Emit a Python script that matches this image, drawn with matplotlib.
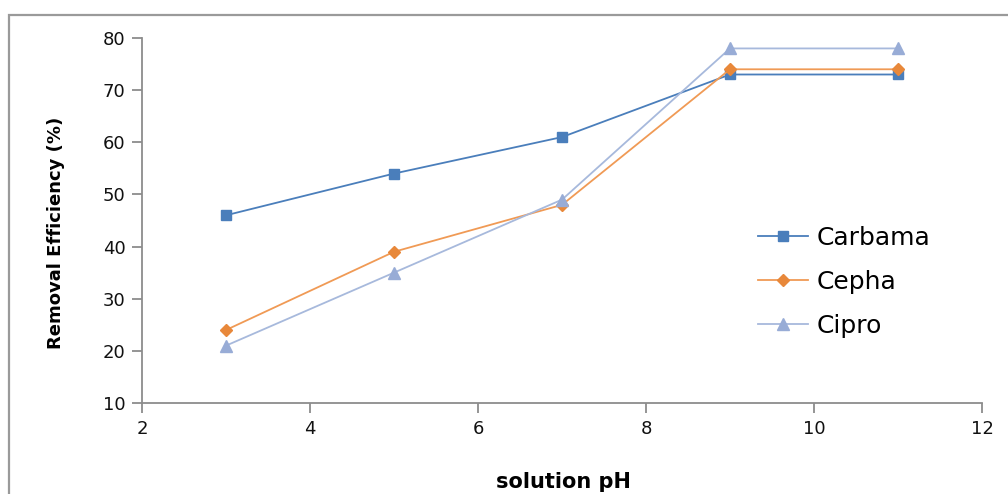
import matplotlib
matplotlib.use('Agg')
import matplotlib.pyplot as plt
from matplotlib.patches import Rectangle

ph = [3, 5, 7, 9, 11]
carbama = [46, 54, 61, 73, 73]
cepha = [24, 39, 48, 74, 74]
cipro = [21, 35, 49, 78, 78]

fig = plt.figure(figsize=(10.08, 4.94), dpi=100)
# chart area border (Excel style)
fig.patches.append(Rectangle((9 / 1008, -0.1), 1.2, 1.1 - 15 / 494,
                             transform=fig.transFigure, fill=False,
                             edgecolor='#9a9a9a', lw=1.6))

ax = fig.add_axes([142 / 1008, 1 - 403 / 494, 840 / 1008, 365 / 494])
ax.plot(ph, carbama, color='#4a7ebb', lw=1.3, marker='s', ms=7, label='Carbama')
ax.plot(ph, cepha, color='#f09a55', lw=1.3, marker='D', ms=6.5,
        mfc='#e8883a', mec='#e8883a', label='Cepha')
ax.plot(ph, cipro, color='#a7b9dc', lw=1.3, marker='^', ms=9,
        mfc='#98acd6', mec='#98acd6', label='Cipro')

ax.set_xlim(2, 12)
ax.set_ylim(10, 80)
ax.set_xticks(range(2, 13, 2))
ax.set_yticks(range(10, 81, 10))
for s in ['top', 'right']:
    ax.spines[s].set_visible(False)
for s in ['left', 'bottom']:
    ax.spines[s].set_color('#8c8c8c')
    ax.spines[s].set_linewidth(1.3)
ax.tick_params(colors='#8c8c8c', labelcolor='#111111', labelsize=13,
               length=7, width=1.3, pad=5)

ax.set_xlabel('solution pH', fontsize=15, fontweight='bold')
ax.xaxis.set_label_coords((563 - 142) / 840, (403 - 472) / 365)
ax.set_ylabel('Removal Efficiency (%)', fontsize=13, fontweight='bold')
ax.yaxis.set_label_coords((65 - 142) / 840, (403 - 233) / 365)

ax.legend(frameon=False, fontsize=18, loc='center left',
          bbox_to_anchor=((758 - 142) / 840, (403 - 282) / 365),
          borderpad=0, borderaxespad=0, handlelength=2.0, labelspacing=0.8,
          handletextpad=0.36)

fig.savefig('out.png', dpi=100)
